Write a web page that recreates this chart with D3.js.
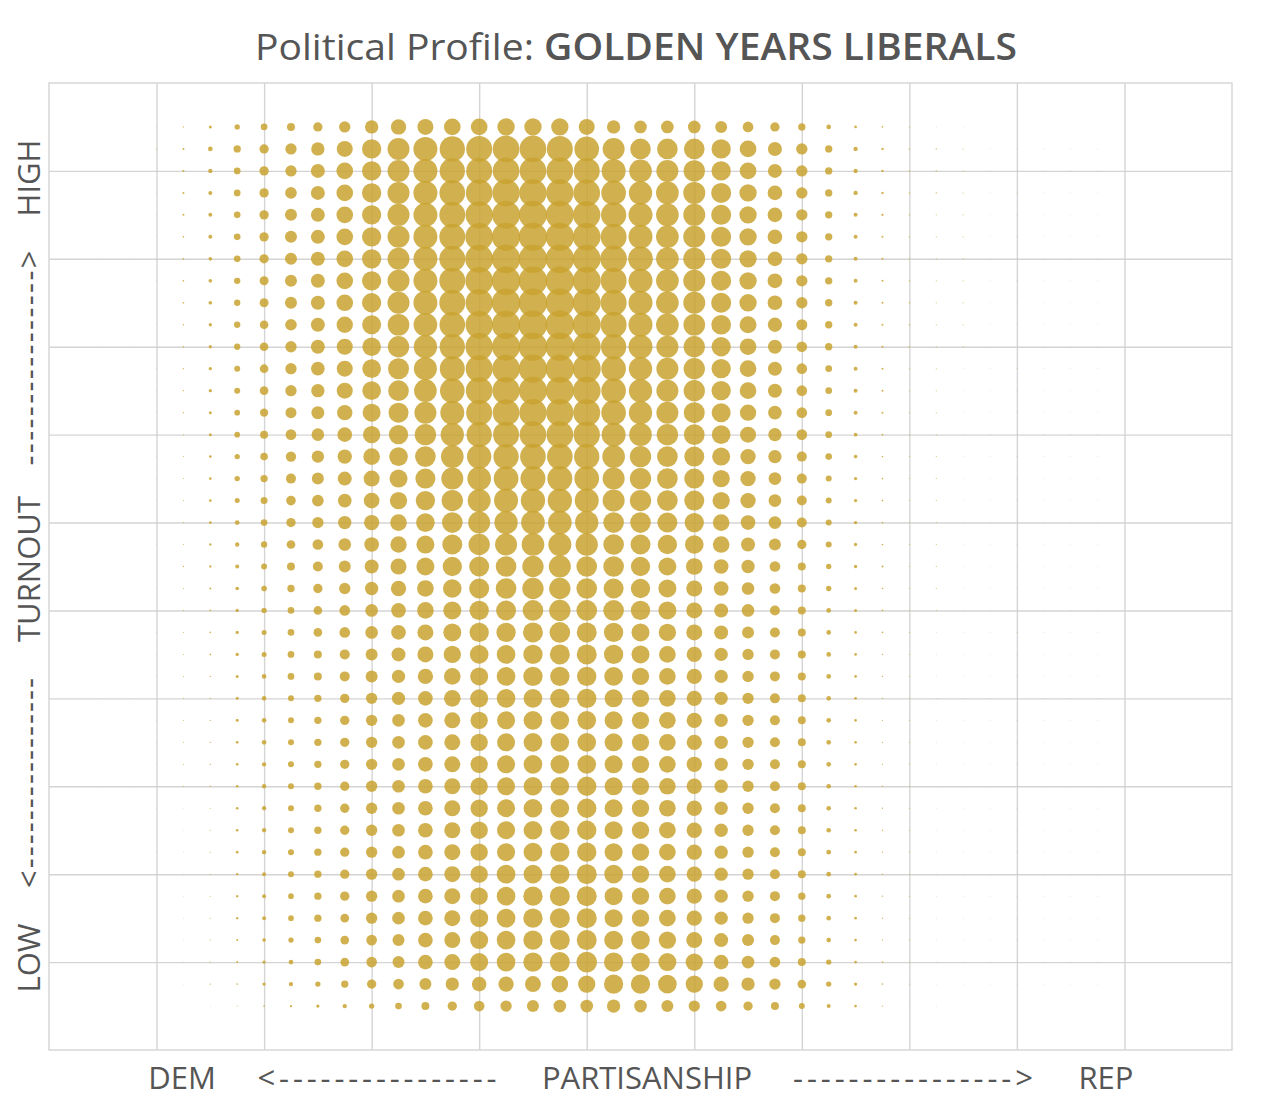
<!DOCTYPE html>
<html>
<head>
<meta charset="utf-8">
<script src="https://cdn.jsdelivr.net/npm/d3@7"></script>
<style>
  body { margin: 0; background: #fff; }
  svg { display: block; font-family: "Open Sans", "Noto Sans", sans-serif; }
</style>
</head>
<body>
<svg id="chart" width="1271" height="1106"></svg>
<script>
// Partisanship bins (0 = DEM, 100 = REP)
const partisanship = [0, 2.5, 5, 7.5, 10, 12.5, 15, 17.5, 20, 22.5, 25, 27.5, 30, 32.5, 35, 37.5, 40, 42.5, 45, 47.5,
  50, 52.5, 55, 57.5, 60, 62.5, 65, 67.5, 70, 72.5, 75, 77.5, 80, 82.5, 85, 87.5, 90, 92.5, 95, 97.5, 100];

// Turnout bins, top row first (100 = HIGH)
const turnout = [100, 97.5, 95, 92.5, 90, 87.5, 85, 82.5, 80, 77.5, 75, 72.5, 70, 67.5, 65, 62.5, 60, 57.5, 55, 52.5,
  50, 47.5, 45, 42.5, 40, 37.5, 35, 32.5, 30, 27.5, 25, 22.5, 20, 17.5, 15, 12.5, 10, 7.5, 5, 2.5, 0];

const gridTicks = [5, 15, 25, 35, 45, 55, 65, 75, 85, 95];

// Relative share of the segment in each cell, one row per turnout bin
const density = [
  [0,1,2,4,9,16,20,24,28,34, 40,46,48,50,50,52,52,52,48,40, 38,38,38,36,32,28,22,14,8,5, 3,2,2,1,1,1,1,1,0,0,0],
  [1,1,3,6,14,22,28,34,40,48, 58,66,72,76,78,80,80,78,74,66, 62,62,62,58,50,42,34,22,13,7, 4,4,3,2,2,2,2,2,0,0,0],
  [1,1,2,6,13,20,28,34,42,50, 58,66,72,76,78,80,80,80,78,72, 68,66,64,58,50,42,34,22,13,7, 4,4,3,2,2,2,2,2,0,0,0],
  [1,1,2,6,12,20,28,35,42,50, 58,66,72,77,80,82,82,82,80,74, 70,68,66,60,52,44,34,22,13,7, 4,4,3,2,2,2,2,2,0,0,0],
  [1,1,2,6,12,20,28,36,42,50, 58,66,72,78,82,84,84,84,82,76, 72,68,66,60,52,44,34,22,12,7, 4,3,3,2,2,2,2,2,0,0,0],
  [1,1,2,5,12,20,28,36,42,50, 58,66,72,78,83,85,85,85,83,78, 72,68,66,60,52,44,34,22,12,6, 4,3,3,2,2,2,2,2,0,0,0],
  [1,1,2,5,11,20,28,36,42,50, 58,66,72,78,84,86,86,86,84,80, 74,68,66,60,52,44,34,22,12,6, 4,3,3,2,2,2,2,2,0,0,0],
  [1,1,2,5,11,19,27,36,42,50, 58,66,72,78,83,86,86,86,84,78, 72,68,66,60,52,44,34,22,12,6, 4,3,3,2,2,2,2,2,0,0,0],
  [1,1,2,5,11,19,27,36,42,50, 58,66,72,78,82,86,86,86,84,78, 72,68,66,60,52,44,34,22,12,6, 4,3,3,2,2,2,2,2,0,0,0],
  [1,1,2,4,10,19,26,35,42,49, 57,65,71,77,82,85,86,86,84,78, 72,68,65,59,51,43,33,22,12,6, 4,3,3,2,2,2,2,2,0,0,0],
  [1,1,2,4,10,19,26,34,42,48, 56,64,70,76,82,84,86,86,84,76, 72,66,64,58,50,42,32,22,12,6, 4,3,3,2,2,2,2,2,0,0,0],
  [1,1,2,4,10,18,26,34,41,48, 56,63,69,75,81,83,85,85,84,74, 70,66,64,58,50,42,32,20,12,6, 3,3,2,2,2,2,2,2,0,0,0],
  [1,1,2,4,10,18,26,34,40,48, 56,62,68,74,80,82,84,84,83,74, 70,66,64,58,50,42,32,20,12,6, 3,3,2,2,2,2,2,2,0,0,0],
  [1,1,2,4,9,17,25,33,39,46, 54,60,66,72,78,80,82,82,81,74, 70,66,63,57,49,41,32,20,12,6, 3,3,2,2,2,2,2,2,0,0,0],
  [1,1,2,3,9,17,24,32,38,44, 52,58,64,70,76,78,80,80,79,72, 68,64,62,56,48,40,32,20,11,5, 3,3,2,2,2,2,2,2,0,0,0],
  [1,1,2,3,8,16,23,31,37,43, 50,56,62,68,73,76,77,77,76,68, 64,62,60,54,46,40,30,20,11,5, 3,3,2,2,2,2,2,2,0,0,0],
  [1,1,2,3,8,16,22,30,36,42, 48,54,60,66,71,74,75,75,74,66, 64,62,60,52,46,38,30,18,10,5, 3,3,2,2,2,2,2,2,0,0,0],
  [1,1,2,3,8,15,21,29,35,41, 47,52,58,64,69,72,73,73,72,66, 64,62,60,52,46,38,30,18,10,5, 3,3,2,2,2,2,2,2,0,0,0],
  [1,1,2,3,8,14,20,28,34,40, 46,50,56,62,66,70,71,71,70,62, 62,60,58,50,44,38,30,18,10,5, 3,3,2,2,2,2,2,2,0,0,0],
  [1,1,2,3,7,13,19,26,32,38, 44,49,54,60,64,66,68,69,67,62, 60,58,56,50,42,36,28,18,10,5, 3,3,2,2,2,2,2,2,0,0,0],
  [1,1,2,4,7,12,18,24,30,36, 42,48,54,58,60,62,64,66,62,62, 58,54,50,44,40,32,24,16,10,6, 3,3,2,2,2,2,2,2,0,0,0],
  [1,1,2,3,6,11,17,22,28,34, 40,46,50,56,60,62,64,64,62,60, 58,54,48,44,38,32,24,16,9,5, 3,3,2,2,2,2,2,2,0,0,0],
  [1,1,2,3,5,10,16,20,26,32, 38,44,50,54,58,60,62,64,62,62, 58,54,48,42,38,30,24,14,9,5, 3,3,2,2,2,2,2,2,0,0,0],
  [1,1,2,3,5,10,15,20,26,32, 38,44,48,54,58,58,60,62,60,58, 54,52,48,42,36,30,24,14,8,5, 3,2,2,2,2,2,2,2,0,0,0],
  [1,1,2,3,5,10,15,20,24,30, 36,42,48,52,56,56,58,60,60,58, 54,50,46,40,34,30,24,14,8,4, 3,2,2,2,2,2,2,2,0,0,0],
  [1,1,2,3,4,9,14,20,24,30, 36,40,46,50,54,56,58,58,58,56, 52,50,46,40,34,30,24,14,8,4, 3,2,2,2,2,2,2,2,0,0,0],
  [1,1,2,3,4,9,14,18,22,28, 34,40,44,50,54,56,56,58,58,54, 52,50,46,40,34,30,24,14,8,4, 3,2,2,2,2,2,2,2,0,0,0],
  [1,1,2,3,4,9,14,18,22,28, 34,38,44,48,52,54,56,56,56,54, 52,50,46,40,34,30,24,14,8,4, 3,2,2,2,2,2,2,2,0,0,0],
  [1,1,2,3,4,8,14,18,22,28, 34,38,44,48,52,54,56,56,56,54, 52,50,46,40,34,30,24,14,8,4, 3,2,2,2,2,2,2,2,0,0,0],
  [1,1,2,3,4,8,13,18,22,28, 34,38,44,48,52,54,56,56,56,54, 52,50,46,40,34,30,24,14,8,4, 3,2,2,2,2,2,2,2,0,0,0],
  [1,1,2,3,4,8,13,18,22,28, 34,38,44,48,52,54,56,56,58,54, 52,50,46,40,34,30,24,14,8,4, 3,2,2,2,2,2,2,2,0,0,0],
  [1,1,2,2,3,8,13,18,22,28, 34,38,44,48,52,54,56,56,58,54, 52,50,46,40,34,30,24,14,8,4, 3,2,2,2,2,2,2,2,0,0,0],
  [1,1,2,2,3,8,13,18,22,28, 34,38,44,48,52,54,56,58,58,54, 52,50,46,40,34,30,24,14,8,4, 3,2,2,2,2,2,2,2,0,0,0],
  [1,1,2,2,3,8,13,18,22,28, 34,38,44,48,52,54,56,58,58,54, 52,50,46,40,34,30,24,14,8,4, 3,2,2,2,2,2,2,2,0,0,0],
  [1,1,2,2,3,7,12,18,22,28, 34,38,44,48,52,56,56,58,60,56, 52,50,46,40,34,30,24,14,8,4, 3,2,2,2,2,2,2,2,0,0,0],
  [1,1,1,2,3,7,12,17,22,28, 34,38,44,48,52,56,58,60,60,54, 52,50,46,40,34,30,22,14,8,4, 3,2,2,2,2,2,2,2,0,0,0],
  [1,1,1,2,3,7,12,17,22,26, 34,38,44,48,54,56,58,60,60,54, 52,50,46,40,34,30,22,14,8,4, 3,2,2,2,2,2,2,2,0,0,0],
  [1,1,1,2,3,6,11,16,20,26, 32,36,44,48,54,56,58,60,60,56, 56,52,48,42,36,30,22,14,8,4, 3,2,2,2,2,2,2,2,0,0,0],
  [1,1,1,2,3,6,10,14,20,26, 32,36,44,48,54,56,58,60,62,58, 56,54,52,44,38,32,24,16,8,5, 3,2,2,2,2,2,2,2,0,0,0],
  [0,1,1,2,4,5,10,13,16,22, 28,32,36,40,44,46,48,50,52,58, 58,56,52,46,40,34,26,16,10,5, 3,2,2,2,2,2,2,2,0,0,0],
  [0,0,1,1,2,3,5,7,10,13, 16,20,24,28,32,34,36,38,38,40, 38,36,34,32,28,24,18,12,8,4, 2,2,1,1,1,1,1,1,0,0,0]
];

const titleText = "Political Profile: ";
const segmentName = "GOLDEN YEARS LIBERALS";

const W = 1271, H = 1106;
const margin = { top: 83, right: 39, bottom: 56, left: 49 };
const width = W - margin.left - margin.right;
const height = H - margin.top - margin.bottom;

const svg = d3.select("#chart");
const g = svg.append("g").attr("transform", `translate(${margin.left},${margin.top})`);

const x = d3.scaleLinear().domain([-5, 105]).range([0, width]);
const y = d3.scaleLinear().domain([-5, 105]).range([height, 0]);
const r = d3.scaleLinear().domain([0, 90]).range([0, 15]);

// Grid
g.append("g")
  .attr("class", "grid")
  .attr("transform", `translate(0,${height})`)
  .call(d3.axisBottom(x).tickValues(gridTicks).tickSize(-height).tickFormat(""))
  .call(s => s.select(".domain").remove());

g.append("g")
  .attr("class", "grid")
  .call(d3.axisLeft(y).tickValues(gridTicks).tickSize(-width).tickFormat(""))
  .call(s => s.select(".domain").remove());

g.selectAll(".grid line").attr("stroke", "#d4d4d4").attr("stroke-width", 1.4);

g.append("rect")
  .attr("width", width)
  .attr("height", height)
  .attr("fill", "none")
  .attr("stroke", "#d4d4d4")
  .attr("stroke-width", 1.4);

// Cells
const cells = [];
density.forEach((row, i) => {
  row.forEach((v, j) => {
    if (v > 0) cells.push({ p: partisanship[j], t: turnout[i], v });
  });
});

g.append("g")
  .selectAll("circle")
  .data(cells)
  .join("circle")
  .attr("cx", d => x(d.p))
  .attr("cy", d => y(d.t))
  .attr("r", d => r(d.v))
  .attr("fill", "rgb(201,163,48)")
  .attr("fill-opacity", 0.85);

// Title
const title = svg.append("text")
  .attr("x", 636)
  .attr("y", 60)
  .attr("text-anchor", "middle")
  .attr("fill", "#555")
  .attr("font-size", 37)
  .attr("textLength", 762)
  .attr("lengthAdjust", "spacingAndGlyphs");
title.append("tspan").text(titleText);
title.append("tspan").attr("font-weight", 600).text(segmentName);

// X axis label pieces
const labelColor = "#555";
const xLab = svg.append("g").attr("fill", labelColor).attr("font-size", 31);
const xPieces = [
  { t: "DEM", cx: 182 },
  { t: "<----------------", cx: 377, len: 239 },
  { t: "PARTISANSHIP", cx: 647 },
  { t: "---------------->", cx: 913, len: 240 },
  { t: "REP", cx: 1106 }
];
xPieces.forEach(p => {
  const tx = xLab.append("text")
    .attr("x", p.cx)
    .attr("y", 1089)
    .attr("text-anchor", "middle")
    .text(p.t);
  if (p.len) tx.attr("textLength", p.len).attr("lengthAdjust", "spacing");
});

// Y axis label pieces
const yLab = svg.append("g")
  .attr("fill", labelColor)
  .attr("font-size", 31)
  .attr("transform", "translate(40,0) rotate(-90)");
const yPieces = [
  { t: "LOW", cy: 958 },
  { t: "<----------------", cy: 783, len: 210 },
  { t: "TURNOUT", cy: 569 },
  { t: "---------------->", cy: 358, len: 215 },
  { t: "HIGH", cy: 178 }
];
yPieces.forEach(p => {
  const tx = yLab.append("text")
    .attr("x", -p.cy)
    .attr("y", 0)
    .attr("text-anchor", "middle")
    .text(p.t);
  if (p.len) tx.attr("textLength", p.len).attr("lengthAdjust", "spacing");
});
</script>
</body>
</html>
